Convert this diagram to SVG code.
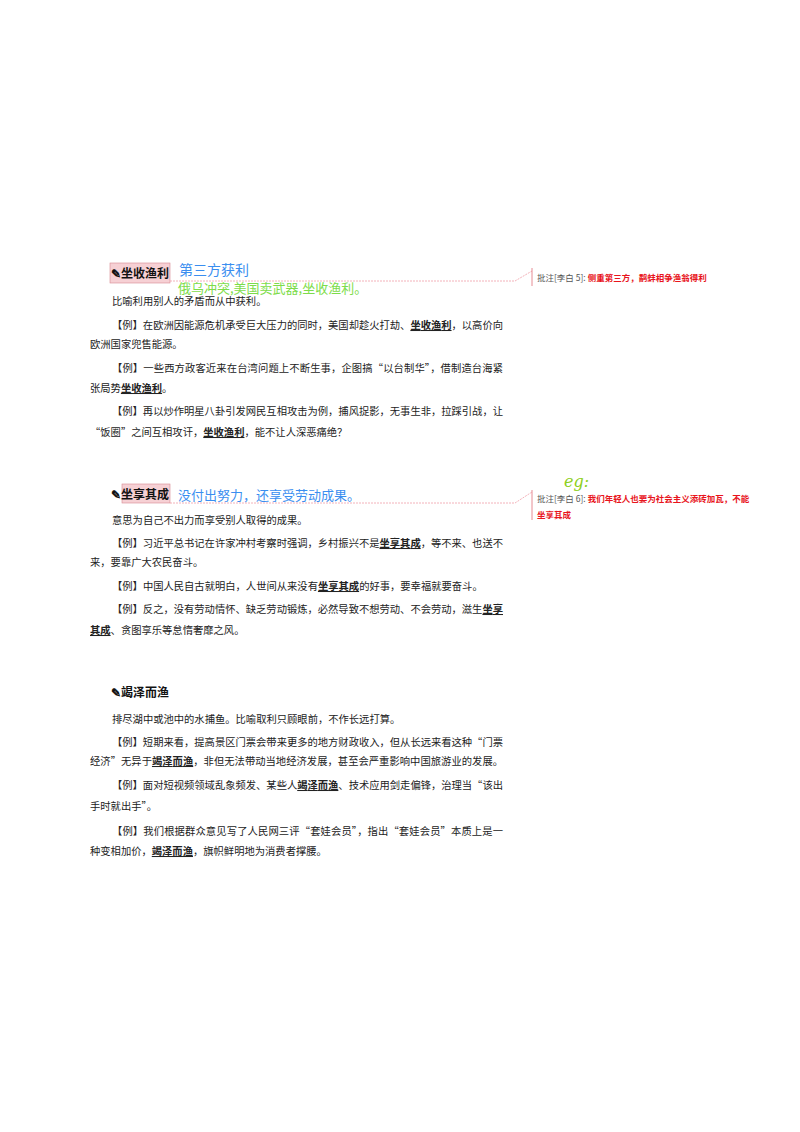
<svg xmlns="http://www.w3.org/2000/svg" width="800" height="1132" viewBox="0 0 800 1132">
<style>
text{font-family:"Noto Sans CJK SC","Noto Sans",sans-serif;fill:#222}
.b{font-size:10.3px}
.h{font-size:12px;font-weight:bold;fill:#111}
.k{font-weight:bold;text-decoration:underline}
.c{font-size:8.5px;fill:#555}
.r{fill:#e8141c;font-weight:bold}
.ln{fill:none;stroke:#f0a0a8;stroke-width:0.8;stroke-dasharray:2 1}
.bar{stroke:#e07078;stroke-width:0.8}
.hl{fill:#f6d0d4;stroke:#d88890;stroke-width:0.6}
</style>
<rect width="800" height="1132" fill="#fff"/>
<g id="s1">
<rect class="hl" x="110" y="263" width="60" height="20"/>
<text class="h" x="111" y="278">✎坐收渔利</text>
<text x="179" y="275" style="font-size:14px;fill:#3a8ef0;font-family:'Noto Sans CJK SC',cursive">第三方获利</text>
<text x="178" y="293" style="font-size:13px;fill:#7ddc4a">俄乌冲突,美国卖武器,坐收渔利。</text>
<text class="b" x="112" y="305">比喻利用别人的矛盾而从中获利。</text>
<text class="b" x="112" y="329" textLength="391">【例】在欧洲因能源危机承受巨大压力的同时，美国却趁火打劫、<tspan class="k">坐收渔利</tspan>，以高价向</text>
<text class="b" x="90" y="348">欧洲国家兜售能源。</text>
<text class="b" x="112" y="372" textLength="391">【例】一些西方政客近来在台湾问题上不断生事，企图搞“以台制华”，借制造台海紧</text>
<text class="b" x="90" y="392">张局势<tspan class="k">坐收渔利</tspan>。</text>
<text class="b" x="112" y="415" textLength="391">【例】再以炒作明星八卦引发网民互相攻击为例，捕风捉影，无事生非，拉踩引战，让</text>
<text class="b" x="90" y="436">“饭圈”之间互相攻讦，<tspan class="k">坐收渔利</tspan>，能不让人深恶痛绝？</text>
</g>
<g id="s2">
<rect class="hl" x="122" y="484" width="48" height="19"/>
<text class="h" x="111" y="499">✎坐享其成</text>
<text x="178" y="500" style="font-size:13px;fill:#3a8ef0">没付出努力，还享受劳动成果。</text>
<text class="b" x="112" y="524">意思为自己不出力而享受别人取得的成果。</text>
<text class="b" x="112" y="547" textLength="391">【例】习近平总书记在许家冲村考察时强调，乡村振兴不是<tspan class="k">坐享其成</tspan>，等不来、也送不</text>
<text class="b" x="90" y="566">来，要靠广大农民奋斗。</text>
<text class="b" x="112" y="590">【例】中国人民自古就明白，人世间从来没有<tspan class="k">坐享其成</tspan>的好事，要幸福就要奋斗。</text>
<text class="b" x="112" y="613" textLength="391">【例】反之，没有劳动情怀、缺乏劳动锻炼，必然导致不想劳动、不会劳动，滋生<tspan class="k">坐享</tspan></text>
<text class="b" x="90" y="634"><tspan class="k">其成</tspan>、贪图享乐等怠惰奢靡之风。</text>
</g>
<g id="s3">
<text class="h" x="111" y="697">✎竭泽而渔</text>
<text class="b" x="112" y="723">排尽湖中或池中的水捕鱼。比喻取利只顾眼前，不作长远打算。</text>
<text class="b" x="112" y="746" textLength="391">【例】短期来看，提高景区门票会带来更多的地方财政收入，但从长远来看这种“门票</text>
<text class="b" x="90" y="765" textLength="413">经济”无异于<tspan class="k">竭泽而渔</tspan>，非但无法带动当地经济发展，甚至会严重影响中国旅游业的发展。</text>
<text class="b" x="112" y="789" textLength="391">【例】面对短视频领域乱象频发、某些人<tspan class="k">竭泽而渔</tspan>、技术应用剑走偏锋，治理当“该出</text>
<text class="b" x="90" y="810">手时就出手”。</text>
<text class="b" x="112" y="835" textLength="391">【例】我们根据群众意见写了人民网三评“套娃会员”，指出“套娃会员”本质上是一</text>
<text class="b" x="90" y="855">种变相加价，<tspan class="k">竭泽而渔</tspan>，旗帜鲜明地为消费者撑腰。</text>
</g>
<g id="connectors">
<polyline class="ln" points="170,281 515,281 532,271"/>
<line class="bar" x1="532" y1="268" x2="532" y2="286"/>
<polyline class="ln" points="170,503 515,503 532,492"/>
<line class="bar" x1="532" y1="490" x2="532" y2="520"/>
</g>
<g id="comments">
<text class="c" x="537" y="281">批注[李白 5]: <tspan class="r">侧重第三方，鹬蚌相争渔翁得利</tspan></text>
<text x="564" y="487" style="font-size:16px;fill:#8ccf20;font-style:italic;font-family:'DejaVu Serif',cursive">eg:</text>
<text class="c" x="537" y="502">批注[李白 6]: <tspan class="r">我们年轻人也要为社会主义添砖加瓦，不能</tspan></text>
<text class="c r" x="537" y="518">坐享其成</text>
</g>
</svg>
